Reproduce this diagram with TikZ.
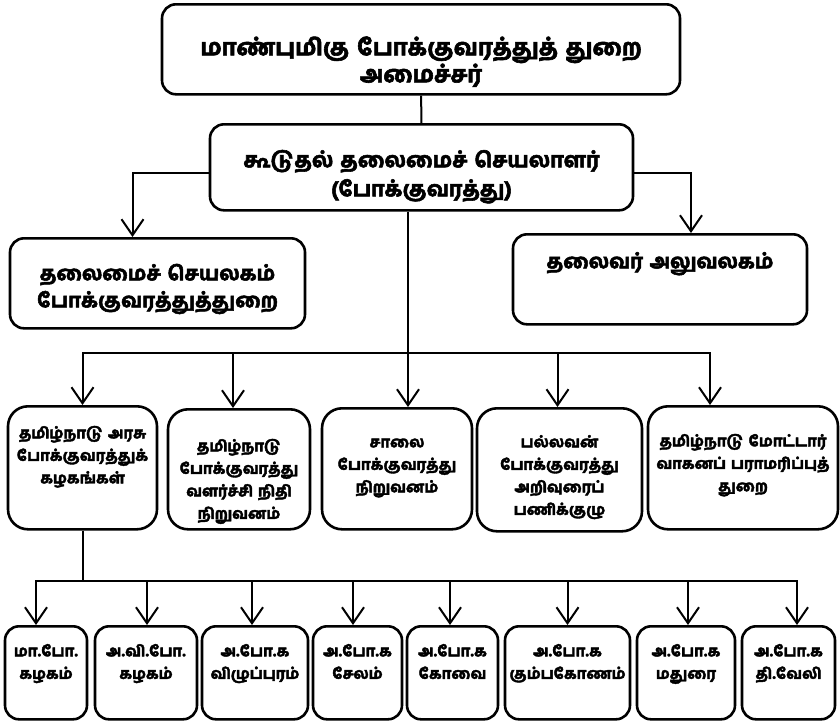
\documentclass[tikz,border=0pt]{standalone}
\usepackage{fontspec}
\newfontfamily\tamilfont[Script=Tamil, BoldFont={Hind Madurai Bold},
  BoldFeatures={FakeBold=2.6}]{Hind Madurai}
\usetikzlibrary{arrows.meta}

\tikzset{
  tbox/.style n args={3}{draw, line width=2.6pt, rounded corners=14pt, anchor=north,
    align=center, inner sep=0pt, text width=#1pt, text height=#2pt, text depth=#3pt},
  tfont/.style 2 args={font=\tamilfont\bfseries\fontsize{#1}{#2}\selectfont},
  small/.style={tfont={15}{22.5}},
  link/.style={line width=2pt},
  arr/.style={link, -{Straight Barb[length=16pt,width=22pt]}},
}

\begin{document}
\begin{tikzpicture}[x=1pt,y=-1pt]
  \useasboundingbox (0,0) rectangle (840,721);

  % top levels
  \node[tbox={518}{51}{39}, tfont={23}{27}] (minister) at (421,3) {மாண்புமிகு போக்குவரத்துத் துறை\\அமைச்சர்};
  \node[tbox={423}{43}{43}, tfont={21}{29}] (secretary) at (421.5,123) {கூடுதல் தலைமைச் செயலாளர்\\(போக்குவரத்து)};
  \node[tbox={295}{42}{48}, tfont={20}{27}] (secretariat) at (157.5,237) {தலைமைச் செயலகம்\\போக்குவரத்துத்துறை};
  \node[tbox={294}{34}{56}, tfont={20}{27}] (office) at (660,233) {தலைவர் அலுவலகம்};

  % middle row
  \node[tbox={149}{32}{91}, small, rounded corners=20pt] (corp) at (82.5,405) {தமிழ்நாடு அரசு\\போக்குவரத்துக்\\கழகங்கள்};
  \node[tbox={142}{42}{78}, small, rounded corners=20pt] (fund) at (239,408) {தமிழ்நாடு\\போக்குவரத்து\\வளர்ச்சி நிதி\\நிறுவனம்};
  \node[tbox={150}{39}{82}, small, rounded corners=20pt] (road) at (397,407) {சாலை\\போக்குவரத்து\\நிறுவனம்};
  \node[tbox={165}{39}{84}, small, rounded corners=20pt] (pallavan) at (559.5,407) {பல்லவன்\\போக்குவரத்து\\அறிவுரைப்\\பணிக்குழு};
  \node[tbox={190}{40}{83}, small, rounded corners=20pt] (motor) at (743,405) {தமிழ்நாடு மோட்டார்\\வாகனப் பராமரிப்புத்\\துறை};

  % bottom row
  \node[tbox={82}{30}{63}, small] (mtc) at (46,625) {மா.போ.\\கழகம்};
  \node[tbox={102}{30}{63}, small] (setc) at (146,625) {அ.வி.போ.\\கழகம்};
  \node[tbox={106}{30}{63}, small] (vpm) at (255,625) {அ.போ.க\\விழுப்புரம்};
  \node[tbox={89}{30}{63}, small] (slm) at (357.5,625) {அ.போ.க\\சேலம்};
  \node[tbox={91}{30}{63}, small] (cbe) at (452.5,625) {அ.போ.க\\கோவை};
  \node[tbox={125}{30}{63}, small] (kum) at (567.5,625) {அ.போ.க\\கும்பகோணம்};
  \node[tbox={98}{30}{63}, small] (mdu) at (686,625) {அ.போ.க\\மதுரை};
  \node[tbox={93}{30}{63}, small] (tvl) at (788.5,625) {அ.போ.க\\தி.வேலி};

  % connectors
  \draw[link] (minister) -- (secretary);
  \draw[arr] ([yshift=-6pt]secretary.west) -| ([xshift=-25pt]secretariat.north);
  \draw[arr] ([yshift=-6pt]secretary.east) -| ([xshift=31pt]office.north);

  \coordinate (hub) at (408,353);
  \draw[link] ([xshift=-13.5pt]secretary.south) -- (hub);
  \foreach \n/\s in {corp/0, fund/-6, road/11, pallavan/-2, motor/-33}
    \draw[arr] (hub) -| ([xshift=\s pt]\n.north);

  \coordinate (hub2) at (82.5,581);
  \draw[link] (corp) -- (hub2);
  \foreach \n/\s in {mtc/-10, setc/1, vpm/-3, slm/-4.5, cbe/-2.5, kum/0, mdu/2, tvl/8.5}
    \draw[arr] (hub2) -| ([xshift=\s pt]\n.north);
\end{tikzpicture}
\end{document}
